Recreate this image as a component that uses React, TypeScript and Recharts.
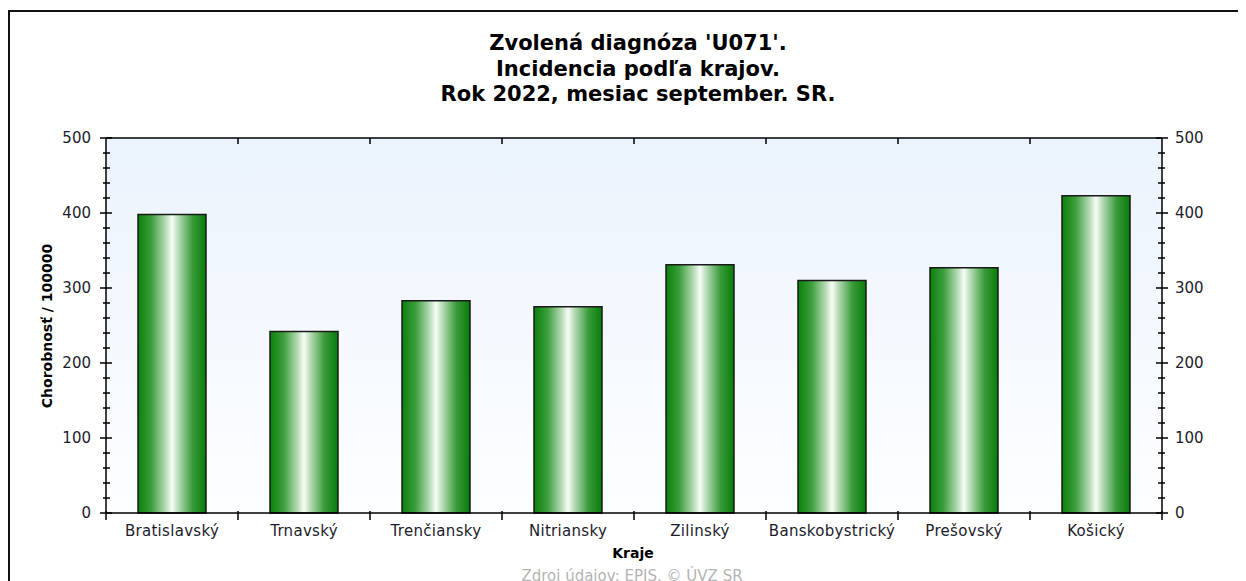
import React from "react";
import {
  BarChart,
  Bar,
  XAxis,
  YAxis,
  CartesianGrid,
} from "recharts";

const REGIONS = [
  "Bratislavský",
  "Trnavský",
  "Trenčiansky",
  "Nitriansky",
  "Zilinský",
  "Banskobystrický",
  "Prešovský",
  "Košický",
];
const INCIDENCE = [398, 242, 283, 275, 331, 310, 327, 423];
const Y_TICKS = [
  0, 20, 40, 60, 80, 100, 120, 140, 160, 180, 200, 220, 240, 260, 280, 300,
  320, 340, 360, 380, 400, 420, 440, 460, 480, 500,
];
const TITLE_LINES = [
  "Zvolená diagnóza 'U071'.",
  "Incidencia podľa krajov.",
  "Rok 2022, mesiac september. SR.",
];

const data = REGIONS.map((name, i) => ({ name, value: INCIDENCE[i] }));

const W = 1238;
const H = 573;
const PLOT_W = 1056;
const BAND = PLOT_W / REGIONS.length;

const tickFont = {
  fontFamily: "'DejaVu Sans', sans-serif",
  fontSize: 15,
  fill: "#1c1c2c",
};

function LeftTick(props: any) {
  const { x, y, payload } = props;
  const major = payload.value % 100 === 0;
  return (
    <g>
      <line
        x1={major ? x - 6 : x - 3}
        x2={major ? x + 6 : x + 4}
        y1={y}
        y2={y}
        stroke="#000"
        strokeWidth={1.5}
      />
      {major && (
        <text x={x - 15} y={y} dy={5} textAnchor="end" {...tickFont}>
          {payload.value}
        </text>
      )}
    </g>
  );
}

function RightTick(props: any) {
  const { x, y, payload } = props;
  const major = payload.value % 100 === 0;
  return (
    <g>
      <line
        x1={major ? x - 6 : x - 4}
        x2={major ? x + 6 : x + 3}
        y1={y}
        y2={y}
        stroke="#000"
        strokeWidth={1.5}
      />
      {major && (
        <text x={x + 13} y={y} dy={5} textAnchor="start" {...tickFont}>
          {payload.value}
        </text>
      )}
    </g>
  );
}

function BottomTick(props: any) {
  const { x, y, payload, index } = props;
  return (
    <g>
      <line x1={x - BAND / 2} x2={x - BAND / 2} y1={y - 2} y2={y + 7} stroke="#000" strokeWidth={1.5} />
      {index === REGIONS.length - 1 && (
        <line x1={x + BAND / 2} x2={x + BAND / 2} y1={y - 2} y2={y + 7} stroke="#000" strokeWidth={1.5} />
      )}
      <text x={x} y={y} dy={22.5} textAnchor="middle" {...tickFont} letterSpacing={0.3}>
        {payload.value}
      </text>
    </g>
  );
}

function TopTick(props: any) {
  const { x, y, index } = props;
  if (index === 0) return <g />;
  return (
    <line x1={x - BAND / 2} x2={x - BAND / 2} y1={y} y2={y + 6} stroke="#000" strokeWidth={1.5} />
  );
}

export default function App() {
  return (
    <div
      style={{
        position: "relative",
        width: W,
        height: H,
        overflow: "hidden",
        background: "#fff",
      }}
    >
      <div
        style={{
          position: "absolute",
          left: 0,
          top: 2,
          width: 2000,
          height: 2000,
          borderLeft: "2px solid #111",
          borderTop: "2px solid #111",
        }}
      />
      <BarChart
        width={W}
        height={H}
        data={data}
        margin={{ top: 120, right: 24, bottom: 18, left: 38 }}
        barSize={68}
        style={{ position: "absolute", left: 0, top: 0 }}
      >
        <defs>
          <linearGradient id="plotBg" x1="0" y1="0" x2="0" y2="1">
            <stop offset="0%" stopColor="#ebf3fd" />
            <stop offset="100%" stopColor="#fdfeff" />
          </linearGradient>
          <linearGradient id="barFill" x1="0" y1="0" x2="1" y2="0">
            <stop offset="0%" stopColor="#0b800b" />
            <stop offset="20%" stopColor="#3d9e3d" />
            <stop offset="40%" stopColor="#b2d9b2" />
            <stop offset="50%" stopColor="#f7fcf7" />
            <stop offset="60%" stopColor="#b2d9b2" />
            <stop offset="80%" stopColor="#3a9b3a" />
            <stop offset="100%" stopColor="#087c08" />
          </linearGradient>
        </defs>
        <CartesianGrid
          xAxisId="bottom"
          yAxisId="left"
          horizontal={false}
          vertical={false}
          fill="url(#plotBg)"
          fillOpacity={1}
        />
        <XAxis
          xAxisId="bottom"
          dataKey="name"
          orientation="bottom"
          height={50}
          interval={0}
          tickSize={0}
          tickMargin={0}
          tickLine={false}
          axisLine={{ stroke: "#000", strokeWidth: 1.5 }}
          tick={<BottomTick />}
        />
        <XAxis
          xAxisId="top"
          dataKey="name"
          orientation="top"
          height={10}
          interval={0}
          tickSize={0}
          tickMargin={0}
          tickLine={false}
          axisLine={{ stroke: "#000", strokeWidth: 1.5 }}
          tick={<TopTick />}
        />
        <YAxis
          yAxisId="left"
          orientation="left"
          width={60}
          domain={[0, 500]}
          ticks={Y_TICKS}
          interval={0}
          tickSize={0}
          tickMargin={0}
          tickLine={false}
          axisLine={{ stroke: "#000", strokeWidth: 1.5 }}
          tick={<LeftTick />}
        />
        <YAxis
          yAxisId="right"
          orientation="right"
          width={60}
          domain={[0, 500]}
          allowDataOverflow
          ticks={Y_TICKS}
          interval={0}
          tickSize={0}
          tickMargin={0}
          tickLine={false}
          axisLine={{ stroke: "#000", strokeWidth: 1.5 }}
          tick={<RightTick />}
        />
        <Bar
          xAxisId="bottom"
          yAxisId="left"
          dataKey="value"
          fill="url(#barFill)"
          stroke="#1a1a1a"
          strokeWidth={1.5}
          isAnimationActive={false}
        />
      </BarChart>
      <div
        style={{
          position: "absolute",
          left: 330,
          width: 600,
          top: 23,
          textAlign: "center",
          fontFamily: "'DejaVu Sans', sans-serif",
          fontWeight: "bold",
          fontSize: 21,
          lineHeight: "25.5px",
          color: "#000",
        }}
      >
        {TITLE_LINES.map((t) => (
          <div key={t}>{t}</div>
        ))}
      </div>
      <div
        style={{
          position: "absolute",
          left: 39 - 100,
          top: 318 - 10,
          width: 200,
          height: 20,
          lineHeight: "20px",
          textAlign: "center",
          transform: "rotate(-90deg)",
          fontFamily: "'DejaVu Sans', sans-serif",
          fontWeight: "bold",
          fontSize: 14,
          color: "#000",
        }}
      >
        Chorobnosť / 100000
      </div>
      <div
        style={{
          position: "absolute",
          left: 525,
          width: 200,
          top: 536,
          lineHeight: "18px",
          textAlign: "center",
          fontFamily: "'DejaVu Sans', sans-serif",
          fontWeight: "bold",
          fontSize: 14,
          color: "#000",
        }}
      >
        Kraje
      </div>
      <div
        style={{
          position: "absolute",
          left: 424,
          width: 400,
          top: 561,
          lineHeight: "15px",
          textAlign: "center",
          fontFamily: "'DejaVu Sans', sans-serif",
          fontSize: 15,
          color: "#b4b4b4",
        }}
      >
        Zdroj údajov: EPIS, © ÚVZ SR
      </div>
    </div>
  );
}
